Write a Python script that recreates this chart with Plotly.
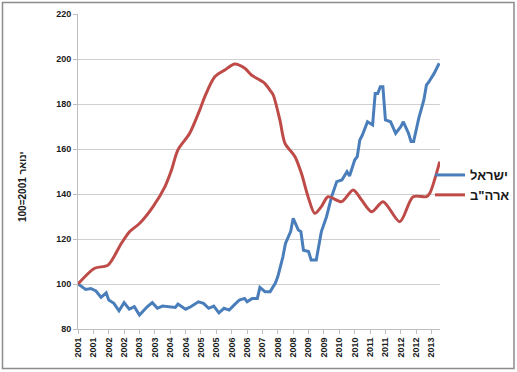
import plotly.graph_objects as go

# x = months since January 2001
tick_labels = ["2001", "2001", "2002", "2002", "2003", "2003", "2004", "2004",
               "2005", "2005", "2006", "2006", "2007", "2008", "2008", "2009",
               "2009", "2010", "2010", "2011", "2011", "2012", "2012", "2013"]
tick_months = [i * 6 for i in range(len(tick_labels))]

israel_month = [0, 3, 5, 7, 9, 11, 12, 14, 16, 18, 20, 22, 24, 27, 29, 31, 33, 36, 38, 39,
                42, 44, 47, 49, 51, 53, 55, 57, 59, 61, 63, 65, 66, 68, 70, 71, 73, 75, 77, 78,
                80, 81, 83, 84, 86, 87, 88, 90, 91, 93, 95, 97, 99, 101, 103, 105, 106, 108,
                109, 110, 111, 113, 115, 116, 117, 118, 119, 120, 122, 124, 126, 127, 129, 130,
                131, 133, 135, 136, 137, 139, 141]
israel_value = [100, 97.6, 98, 96.9, 94.1, 96.1, 92.9, 91.4, 88.1, 91.7, 88.8, 89.9, 86.2,
                89.9, 91.7, 89.2, 90.2, 89.9, 89.6, 91.1, 88.8, 89.9, 92.1, 91.4, 89.2, 90.2,
                87.2, 89.2, 88.4, 90.7, 92.9, 93.6, 92.1, 93.6, 93.6, 98.5, 96.6, 96.6, 100.3,
                103.3, 112.2, 118.1, 123.3, 129.2, 124, 123.3, 115, 114.4, 110.7, 110.7, 123.3,
                129.9, 138.8, 145.5, 146.2, 149.9, 148, 155.1, 156.6, 164, 166.2, 172.1, 170.7,
                184.7, 184.7, 187.7, 187.7, 172.9, 172.1, 167, 169.9, 172.1, 167, 163.3, 163.3,
                173.6, 181.8, 188.4, 189.9, 193.6, 198.1]

usa_month = [0, 6.5, 11.7, 16.9, 20.2, 24.1, 29.3, 33.9, 36.5, 39, 43.6, 47.5,
             49.5, 53.4, 57.3, 61.2, 65.1, 67.7, 72.9, 74.9, 76.2, 78.8, 80.8, 84.7, 87.2,
             89.8, 92.4, 95, 97.6, 102.9, 107.4, 110.7, 114.6, 119.1, 125.6, 130.8, 136,
             137.3, 141.2]
usa_value = [100, 107, 108.4, 118, 123.3, 127, 134.4, 143.2, 150.7, 159.6, 167, 177.3,
             183.3, 192.1, 195.1, 197.8, 195.9, 192.9, 189.2, 186.2, 184, 172.9, 162.5,
             156.6, 149.2, 138.8, 131.4, 134.4, 138.8, 136.6, 141.8, 137.3, 132.1, 136.6,
             127.7, 138.8, 138.8, 140.3, 154.4]

series_names = ["ישראל", 'ארה"ב']
y_title = "ינואר 2001=100"

W, H = 517, 372
ml, mr, mt, mb = 78, 77, 14, 43
pw, ph = W - ml - mr, H - mt - mb

fig = go.Figure()
fig.add_trace(go.Scatter(x=israel_month, y=israel_value, mode="lines", name=series_names[0],
                         line=dict(color="#4A7EBB", width=3)))
fig.add_trace(go.Scatter(x=usa_month, y=usa_value, mode="lines", name=series_names[1],
                         line=dict(color="#BE4B48", width=3, shape="spline", smoothing=0.8)))

axis_font = dict(family="Liberation Sans, Arial, sans-serif", size=9, color="#1a1a1a", weight="bold")

fig.update_layout(
    width=W, height=H,
    margin=dict(l=ml, r=mr, t=mt, b=mb, autoexpand=False),
    paper_bgcolor="white", plot_bgcolor="white",
    font=dict(family="Liberation Sans, Arial, sans-serif"),
    xaxis=dict(range=[0, 141.3], tickmode="array", tickvals=tick_months, ticktext=tick_labels,
               tickangle=-90, tickfont=axis_font, showgrid=False, zeroline=False,
               showline=True, linecolor="#bfbfbf", linewidth=1, automargin=False,
               ticks="outside", ticklen=4, tickcolor="#bfbfbf"),
    yaxis=dict(range=[80, 220], tickmode="array", tickvals=list(range(80, 221, 20)),
               tickfont=axis_font, showgrid=True, gridcolor="#cfcfcf", gridwidth=1,
               zeroline=False, showline=True, linecolor="#bfbfbf", linewidth=1, automargin=False,
               ticks="outside", ticklen=4, tickcolor="#bfbfbf"),
    legend=dict(x=(430 - ml) / pw, xanchor="left", y=(H - mb - 185) / ph, yanchor="middle",
                font=dict(family="Liberation Sans, Arial, sans-serif", size=13,
                          color="#1a1a1a", weight="bold"),
                bgcolor="rgba(0,0,0,0)", tracegroupgap=2, itemwidth=30),
    showlegend=True,
)

fig.add_annotation(text=y_title, xref="paper", yref="paper",
                   x=(22 - ml) / pw, y=(H - mb - 187) / ph, showarrow=False, textangle=-90,
                   xanchor="center", yanchor="middle",
                   font=dict(family="Liberation Sans, Arial, sans-serif", size=10,
                             color="#1a1a1a", weight="bold"))

# outer chart border
fig.add_shape(type="rect", xref="paper", yref="paper",
              x0=(2.5 - ml) / pw, x1=(514 - ml) / pw,
              y0=(H - mb - 368.5) / ph, y1=(H - mb - 2.5) / ph,
              line=dict(color="#8c8c8c", width=1.5), fillcolor="rgba(0,0,0,0)", layer="below")

fig.write_html("out.html", config={"displayModeBar": False},
               post_script="document.body.style.margin='0';document.body.style.overflow='hidden';")
